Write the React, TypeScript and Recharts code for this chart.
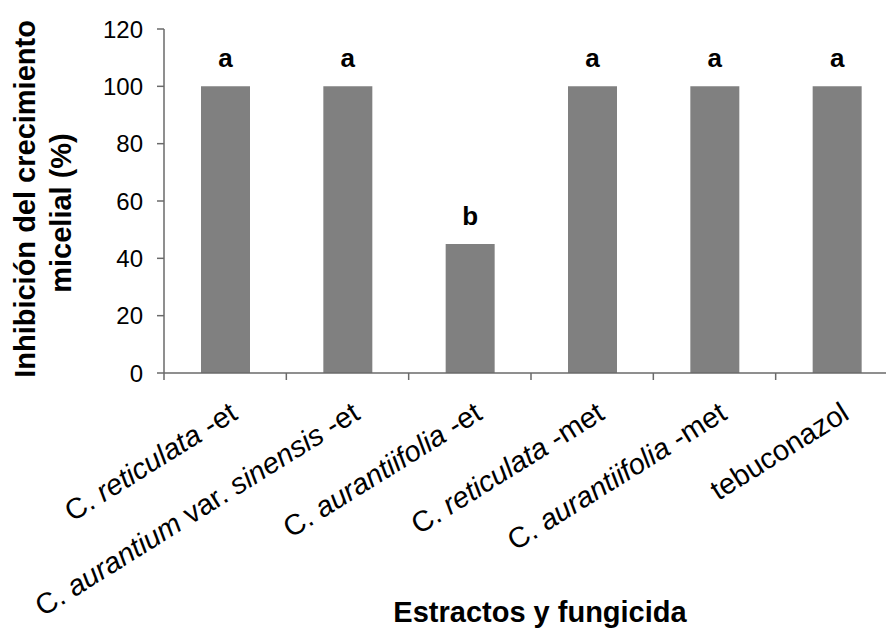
import { Bar, BarChart, LabelList, XAxis, YAxis } from "recharts";

const categorias = [
  "C. reticulata -et",
  "C. aurantium var. sinensis -et",
  "C. aurantiifolia -et",
  "C. reticulata -met",
  "C. aurantiifolia -met",
  "tebuconazol",
];
const inhibicion = [100, 100, 45, 100, 100, 100];
const letras = ["a", "a", "b", "a", "a", "a"];
const yTicks = [0, 20, 40, 60, 80, 100, 120];
const bordes = [0, 1, 2, 3, 4, 5, 6];
const cursiva = ["reticulata", "aurantium", "sinensis", "aurantiifolia"];

const data = categorias.map((name, i) => ({
  name,
  pos: i + 0.5,
  valor: inhibicion[i],
  letra: letras[i],
}));

const FONT = "'Liberation Sans', Arial, sans-serif";
const AXIS = "#6a6a6a";

function CatTick(props: any) {
  const { x, y, payload } = props;
  const words = String(payload.value).split(" ");
  return (
    <g transform={`translate(${x + 14},${y + 37}) rotate(-32)`}>
      <text textAnchor="end" fontFamily={FONT} fontSize={29} fill="#000">
        {words.map((w, i) => (
          <tspan key={i} fontStyle={cursiva.includes(w) ? "italic" : "normal"}>
            {(i > 0 ? " " : "") + w}
          </tspan>
        ))}
      </text>
    </g>
  );
}

function YTitle() {
  return (
    <g fontFamily={FONT} fontSize={29} fontWeight="bold" fill="#000">
      <text x={35} y={199} textAnchor="middle" transform="rotate(-90 35 199)">
        Inhibición del crecimiento
      </text>
      <text x={71} y={213} textAnchor="middle" transform="rotate(-90 71 213)">
        micelial (%)
      </text>
    </g>
  );
}

function XTitle() {
  return (
    <text x={540} y={622} textAnchor="middle" fontFamily={FONT} fontSize={29} fontWeight="bold" fill="#000">
      Estractos y fungicida
    </text>
  );
}

export default function App() {
  return (
    <div
      style={{
        position: "absolute",
        left: 0,
        top: 0,
        width: 886,
        height: 628,
        overflow: "hidden",
        background: "#fff",
      }}
    >
      <BarChart
        width={920}
        height={628}
        data={data}
        margin={{ top: 29, right: 22, left: 0, bottom: 0 }}
      >
        <XAxis
          xAxisId="b"
          dataKey="name"
          height={247}
          interval={0}
          axisLine={false}
          tickLine={false}
          tickSize={0}
          tickMargin={0}
          tick={<CatTick />}
          label={{ content: () => <XTitle /> }}
        />
        {/* eje numérico sólo para las marcas entre categorías */}
        <XAxis
          xAxisId="a"
          dataKey="pos"
          type="number"
          domain={[0, 6]}
          ticks={bordes}
          interval={0}
          allowDataOverflow
          height={8}
          tick={() => <g />}
          tickSize={7}
          axisLine={{ stroke: AXIS, strokeWidth: 1.5 }}
          tickLine={{ stroke: AXIS, strokeWidth: 1.5 }}
        />
        <YAxis
          width={164}
          domain={[0, 120]}
          ticks={yTicks}
          interval={0}
          tickSize={7}
          tickMargin={14}
          tick={{ fill: "#000", fontSize: 24, fontFamily: FONT }}
          axisLine={{ stroke: AXIS, strokeWidth: 1.5 }}
          tickLine={{ stroke: AXIS, strokeWidth: 1.5 }}
          label={{ content: () => <YTitle /> }}
        />
        <Bar xAxisId="b" dataKey="valor" fill="#808080" barSize={49} isAnimationActive={false}>
          <LabelList
            dataKey="letra"
            position="top"
            offset={19}
            fill="#000"
            fontSize={26}
            fontWeight="bold"
            fontFamily={FONT}
          />
        </Bar>
      </BarChart>
    </div>
  );
}
